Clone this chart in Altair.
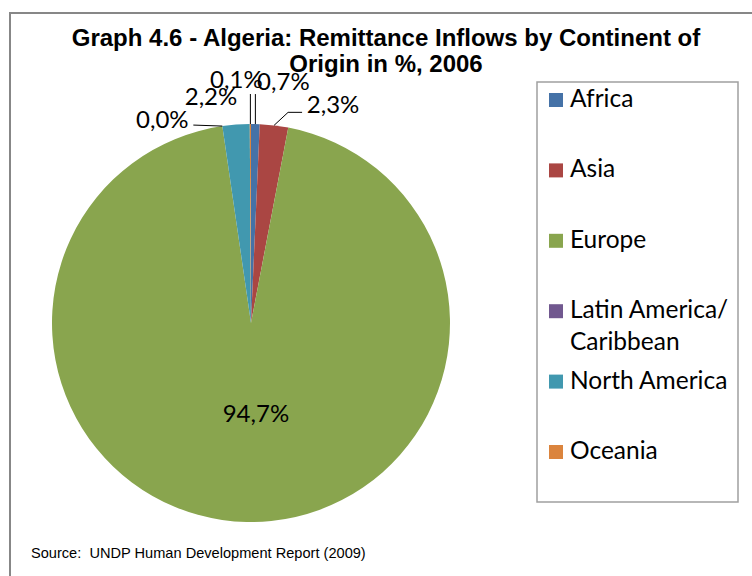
import math

import altair as alt
import pandas as pd

# Remittance inflows to Algeria by continent of origin, share in %, 2006
continents = ["Africa", "Asia", "Europe", "Latin America/Caribbean", "North America", "Oceania"]
shares = [0.7, 2.3, 94.7, 0.0, 2.2, 0.1]
legend_texts = ["Africa", "Asia", "Europe", "Latin America/\nCaribbean", "North America", "Oceania"]
colors = ["#4572A7", "#AA4643", "#89A54E", "#71588F", "#4198AF", "#DB843D"]

title_lines = ["Graph 4.6 - Algeria: Remittance Inflows by Continent of", "Origin in %, 2006"]
# non-breaking space keeps the double gap after the colon in SVG
source_note = "Source:\u00a0 UNDP Human Development Report (2009)"

# pie geometry (pixels)
CX, CY, R = 251, 323, 199

# data label placement: (anchor radius, dx, dy) relative to the slice's mid-angle
label_style = {
    "Africa": (R, 28, -41),
    "Asia": (R, 59, -19),
    "Europe": (95, 7, -3),
    "Latin America/Caribbean": (R, -60, -5),
    "North America": (R, -25, -27),
    "Oceania": (R, -14, -43),
}
# leader lines: bend points as offsets from the slice's outer mid-point
leader_style = {
    "Africa": [(0, -30)],
    "Asia": [(14, -13), (28, -13)],
    "Latin America/Caribbean": [(-29, -1)],
    "Oceania": [(0, -30)],
}

LABEL_FONT = "Lato"
LABEL_SIZE = 24
LEGEND_SIZE = 24.5

df = pd.DataFrame({"continent": continents, "share": shares, "order": range(len(continents))})
df["mid"] = df["share"].cumsum() - df["share"] / 2
df["label"] = df["share"].map(lambda v: f"{v:.1f}".replace(".", ",") + "%")
df["legend"] = legend_texts

theta_scale = alt.Scale(domain=[0, 100])
color_scale = alt.Scale(domain=continents, range=colors)

one_row = pd.DataFrame({"k": [0]})

frame = alt.Chart(one_row).mark_rect(fill="white", stroke="#878787", strokeWidth=2).encode(
    x=alt.value(10), x2=alt.value(800), y=alt.value(13), y2=alt.value(640)
)

legend_box = alt.Chart(one_row).mark_rect(fill="white", stroke="#a0a0a0", strokeWidth=1.5).encode(
    x=alt.value(537), x2=alt.value(738), y=alt.value(82), y2=alt.value(502)
)

pie = alt.Chart(df).mark_arc(outerRadius=R).encode(
    theta=alt.Theta("share:Q", stack=True, scale=theta_scale),
    order=alt.Order("order:Q"),
    color=alt.Color("continent:N", scale=color_scale, legend=None),
    x=alt.value(CX),
    y=alt.value(CY),
)

labels = []
for name in continents:
    r, dx, dy = label_style[name]
    labels.append(
        alt.Chart(df)
        .transform_filter(alt.datum.continent == name)
        .mark_text(radius=r, dx=dx, dy=dy, font=LABEL_FONT, fontSize=LABEL_SIZE,
                   color="black", align="center", baseline="middle")
        .encode(
            theta=alt.Theta("mid:Q", scale=theta_scale),
            text="label:N",
            x=alt.value(CX),
            y=alt.value(CY),
        )
    )

rows = []
for name, bends in leader_style.items():
    mid = float(df.loc[df["continent"] == name, "mid"].iloc[0])
    ang = mid / 100 * 2 * math.pi
    sx, sy = CX + R * math.sin(ang), CY - R * math.cos(ang)
    rows.append({"continent": name, "step": 0, "px": sx, "py": sy})
    for k, (ox, oy) in enumerate(bends):
        rows.append({"continent": name, "step": k + 1, "px": sx + ox, "py": sy + oy})

leaders = alt.Chart(pd.DataFrame(rows)).mark_line(color="black", strokeWidth=1).encode(
    x=alt.X("px:Q", scale=None),
    y=alt.Y("py:Q", scale=None),
    detail="continent:N",
    order="step:Q",
)

legend_y = alt.Y(
    "continent:N",
    scale=alt.Scale(type="point", domain=continents, range=[100, 452], padding=0),
    axis=None,
)

legend_squares = alt.Chart(df).mark_square(size=196, opacity=1).encode(
    x=alt.value(556),
    y=legend_y,
    color=alt.Color("continent:N", scale=color_scale, legend=None),
)

legend_labels = alt.Chart(df).mark_text(
    align="left", baseline="middle", font=LABEL_FONT, fontSize=LEGEND_SIZE,
    lineBreak="\n", lineHeight=32, color="black",
).encode(x=alt.value(570), y=legend_y, text="legend:N")

title = alt.Chart(pd.DataFrame({"t": ["\n".join(title_lines)]})).mark_text(
    font="Liberation Sans", fontWeight="bold", fontSize=24, lineBreak="\n", lineHeight=26,
    align="center", baseline="middle", color="black",
).encode(x=alt.value(386), y=alt.value(39), text="t:N")

source = alt.Chart(pd.DataFrame({"t": [source_note]})).mark_text(
    font="Liberation Sans", fontSize=14.6,
    align="left", baseline="middle", color="black",
).encode(x=alt.value(31), y=alt.value(554), text="t:N")

chart = (
    alt.layer(frame, legend_box, pie, *labels, leaders, legend_squares, legend_labels, title, source)
    .resolve_scale(x="independent", y="independent")
    .properties(width=752, height=576, padding=0, autosize=alt.AutoSizeParams(type="none"))
    .configure_view(stroke=None)
)

chart.save("out.html", embed_options={"renderer": "svg", "actions": False})
